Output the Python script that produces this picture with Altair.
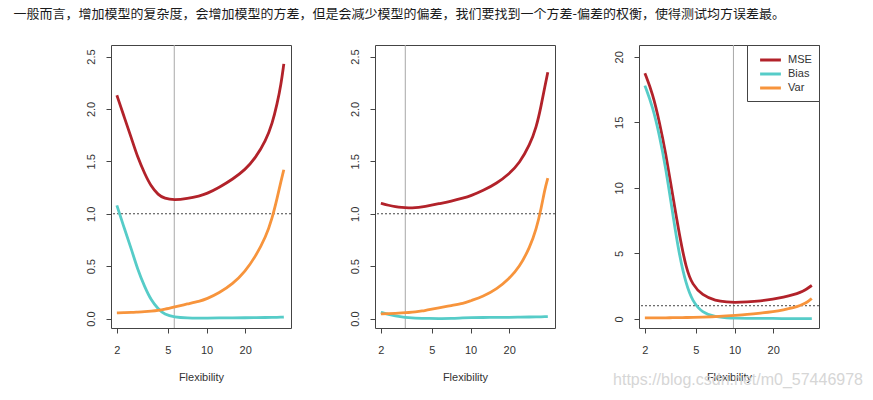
import altair as alt
import pandas as pd

TITLE = "一般而言，增加模型的复杂度，会增加模型的方差，但是会减少模型的偏差，我们要找到一个方差-偏差的权衡，使得测试均方误差最。"
WATERMARK = "https://blog.csdn.net/m0_57446978"

SERIES = ["MSE", "Bias", "Var"]
COLORS = ["#B2222A", "#56CCC8", "#F7943C"]

# flexibility values (log x axis)
X = [2, 2.3, 2.6, 2.9, 3.3, 3.7, 4.2, 4.7, 5.6, 7.1, 8.8, 10, 12.5, 16, 20, 24, 29, 32.5, 35.5, 38, 40]
X_TICKS = [2, 5, 10, 20]

# panel 1
MSE1 = [2.13, 1.91, 1.72, 1.54, 1.38, 1.26, 1.18, 1.145, 1.13, 1.145, 1.17, 1.19, 1.25, 1.33, 1.42, 1.53, 1.70, 1.86, 2.05, 2.23, 2.43]
BIAS1 = [1.08, 0.85, 0.66, 0.47, 0.30, 0.175, 0.09, 0.04, 0.014, 0.006, 0.005, 0.005, 0.006, 0.007, 0.008, 0.009, 0.010, 0.011, 0.012, 0.013, 0.015]
VAR1 = [0.054, 0.056, 0.058, 0.062, 0.066, 0.071, 0.078, 0.088, 0.11, 0.14, 0.165, 0.187, 0.244, 0.33, 0.45, 0.59, 0.78, 0.96, 1.15, 1.31, 1.42]

# panel 2
MSE2 = [1.10, 1.08, 1.067, 1.059, 1.056, 1.058, 1.065, 1.075, 1.095, 1.12, 1.15, 1.17, 1.22, 1.29, 1.38, 1.48, 1.66, 1.82, 2.03, 2.22, 2.35]
BIAS2 = [0.06, 0.04, 0.025, 0.015, 0.008, 0.004, 0.002, 0.001, 0.0, 0.0, 0.008, 0.009, 0.010, 0.011, 0.012, 0.013, 0.015, 0.016, 0.017, 0.018, 0.018]
VAR2 = [0.045, 0.048, 0.05, 0.053, 0.058, 0.063, 0.072, 0.085, 0.10, 0.125, 0.145, 0.17, 0.21, 0.28, 0.38, 0.49, 0.68, 0.85, 1.05, 1.24, 1.34]

# panel 3
MSE3 = [18.75, 17.2, 15.0, 12.7, 9.4, 6.5, 3.8, 2.6, 1.8, 1.38, 1.28, 1.25, 1.29, 1.37, 1.5, 1.65, 1.85, 2.02, 2.2, 2.4, 2.55]
BIAS3 = [17.8, 16.2, 14.0, 11.6, 8.0, 4.9, 2.6, 1.35, 0.45, 0.15, 0.07, 0.05, 0.04, 0.03, 0.03, 0.02, 0.02, 0.02, 0.02, 0.02, 0.02]
VAR3 = [0.07, 0.07, 0.075, 0.08, 0.085, 0.09, 0.1, 0.11, 0.13, 0.17, 0.22, 0.26, 0.33, 0.44, 0.55, 0.68, 0.86, 1.02, 1.18, 1.38, 1.55]

VLINES = [5.6, 3.1, 9.8]
HLINE = 1.0
Y_TICKS_A = [0, 0.5, 1.0, 1.5, 2.0, 2.5]
Y_TICKS_B = [0, 5, 10, 15, 20]

FONT = "Liberation Sans"
TEXT = "#333333"
AXIS_C = "#444444"


def make_panel(mse, bias, var, vline, ydomain, yticks, yformat, legend):
    n = len(X)
    df = pd.DataFrame({
        "Flexibility": X * 3,
        "value": mse + bias + var,
        "series": ["MSE"] * n + ["Bias"] * n + ["Var"] * n,
    })
    xenc = alt.X(
        "Flexibility:Q",
        scale=alt.Scale(type="log", domain=[1.8, 45.5], nice=False),
        axis=alt.Axis(values=X_TICKS, format="d", title="Flexibility", grid=False, domain=False,
                      tickSize=5, tickColor=AXIS_C, labelFont=FONT, labelFontSize=11, labelColor=TEXT,
                      labelPadding=11, labelFlush=False, titleFont=FONT, titleFontSize=11,
                      titleFontWeight="normal", titleColor=TEXT, titlePadding=16),
    )
    yenc = alt.Y(
        "value:Q",
        scale=alt.Scale(domain=ydomain, nice=False, zero=False),
        axis=alt.Axis(values=yticks, format=yformat, title=None, grid=False, domain=False,
                      tickSize=5, tickColor=AXIS_C, labelFont=FONT, labelFontSize=11, labelColor=TEXT,
                      labelAngle=270, labelAlign="center", labelBaseline="bottom", labelPadding=10,
                      labelFlush=False),
    )
    vrule = alt.Chart(pd.DataFrame({"Flexibility": [vline]})).mark_rule(
        color="#a8a8a8", strokeWidth=1).encode(x=xenc)
    hrule = alt.Chart(pd.DataFrame({"value": [HLINE]})).mark_rule(
        color="#444444", strokeWidth=1, strokeDash=[2, 2]).encode(y=yenc)
    lines = alt.Chart(df).mark_line(strokeWidth=2.8, interpolate="basis").encode(
        x=xenc,
        y=yenc,
        color=alt.Color("series:N", scale=alt.Scale(domain=SERIES, range=COLORS), legend=legend),
    )
    return alt.layer(vrule, hrule, lines).properties(width=180, height=283)


LEGEND = alt.Legend(title=None, orient="top-right", offset=0, strokeColor=AXIS_C, fillColor="white",
                    padding=7, cornerRadius=0, symbolType="M-1.6,0H1.6", symbolStrokeWidth=3,
                    symbolSize=169, symbolOffset=8.5, labelFont=FONT, labelFontSize=11,
                    labelColor=TEXT, labelOffset=9.5, rowPadding=0)

p1 = make_panel(MSE1, BIAS1, VAR1, VLINES[0], [-0.09, 2.61], Y_TICKS_A, ".1f", None)
p2 = make_panel(MSE2, BIAS2, VAR2, VLINES[1], [-0.09, 2.61], Y_TICKS_A, ".1f", None)
p3 = make_panel(MSE3, BIAS3, VAR3, VLINES[2], [-0.7, 20.9], Y_TICKS_B, "d", LEGEND).properties(
    title=alt.TitleParams(WATERMARK, orient="bottom", anchor="end", frame="group", dx=44, offset=-10,
                          fontSize=16, font=FONT, fontWeight="normal", color="#d6d6d6"))

chart = alt.hconcat(p1, p2, p3, spacing=56).resolve_scale(color="independent").resolve_legend(
    color="independent").properties(
    title=alt.TitleParams(TITLE, anchor="start", dx=-71, offset=23, fontSize=13,
                          font="Noto Sans CJK SC", fontWeight="normal", color="#1a1a1a"),
    padding={"left": 5, "top": 0, "right": 0, "bottom": 0},
).configure_view(stroke=AXIS_C, strokeWidth=1)

chart.save("out.html", embed_options={"renderer": "svg", "actions": False})
